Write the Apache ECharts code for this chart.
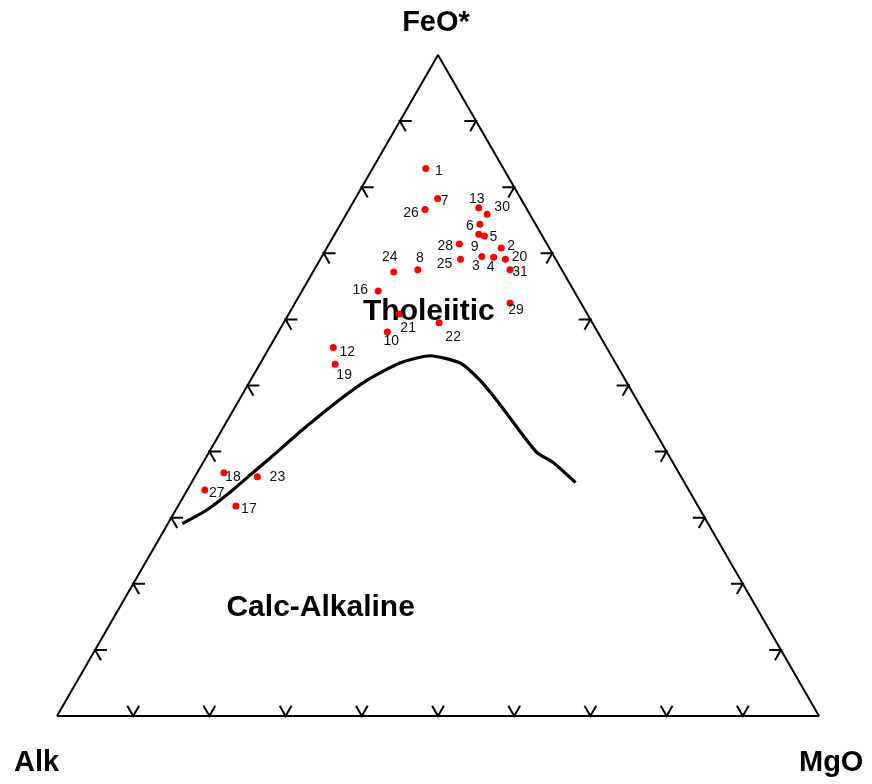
<!DOCTYPE html>
<html>
<head>
<meta charset="utf-8">
<script src="https://cdn.jsdelivr.net/npm/echarts@6/dist/echarts.min.js"></script>
<style>
html,body{margin:0;padding:0;background:#fff;}
#chart{width:872px;height:784px;}
</style>
</head>
<body>
<div id="chart"></div>
<script>
// ---- Data (ternary compositions, %) ----
const sampleIds = ['1','2','3','4','5','6','7','8','9','10','12','13','16','17','18','19','20','21','22','23','24','25','26','27','28','29','30','31'];
const feo = [82.9,70.8,69.5,69.4,72.6,74.4,78.3,67.5,72.9,58.1,55.8,76.9,64.3,31.8,36.8,53.2,69.1,60.8,59.5,36.2,67.1,69.1,76.7,34.2,71.4,62.4,75.9,67.5];
const alk = [10.2,6.3,9.5,8.0,7.6,7.3,10.9,18.9,8.2,27.6,35.9,6.2,25.7,60.7,59.7,36.9,6.6,24.7,20.1,55.6,22.2,12.5,13.4,63.5,11.5,9.3,5.6,6.8];
const mgo = [7.0,22.9,21.0,22.6,19.8,18.3,10.8,13.6,18.9,14.3,8.4,16.9,10.0,7.6,3.5,9.9,24.3,14.5,20.4,8.2,10.6,18.4,10.0,2.3,17.1,28.2,18.5,25.7];

// Tholeiitic / Calc-alkaline boundary
const boundaryFeO = [29.1,31.2,33.9,36.8,40.3,43.0,47.1,50.8,53.4,54.5,53.4,50.8,47.1,43.7,39.9,38.3,35.3];
const boundaryMgO = [1.9,4.1,5.8,7.3,9.1,10.4,12.7,15.3,18.3,21.7,26.2,30.1,34.6,38.5,43.0,46.0,50.4];

// Axis tick values (%)
const tickValues = [10,20,30,40,50,60,70,80,90];

// Vertex and field names
const vertexNames = ['FeO*','Alk','MgO'];
const fieldNames = ['Tholeiitic','Calc-Alkaline'];
const fieldFeO = [61.2,16.4];
const fieldAlk = [20.6,57.2];
const fieldMgO = [18.2,26.4];

// ---- Styling (label placement around each point, px) ----
const labelOffsets = {
  '1':[13,3],'2':[10,-2],'3':[-6,10],'4':[-3,10],'5':[9,1],'6':[-10,2],'7':[7,3],'8':[2,-12],
  '9':[-4,13],'10':[4,9],'12':[14,5],'13':[-2,-9],'16':[-18,-1],'17':[13,3],'18':[9,4],'19':[9,11],
  '20':[14,-2],'21':[9,14],'22':[14,14],'23':[20,0],'24':[-4,-15],'25':[-16,5],'26':[-14,4],'27':[12,3],
  '28':[-14,2],'29':[6,7],'30':[15,-7],'31':[10,2]
};

const S3 = Math.sqrt(3)/2;
function toXY(f, a, m){
  const s = f + a + m;
  const F = f/s, M = m/s;
  return [M + F/2, F*S3];
}

const pointData = sampleIds.map((id,i)=>({
  value: toXY(feo[i], alk[i], mgo[i]),
  name: id,
  label: {offset: labelOffsets[id] || [10,0]}
}));

const curveData = boundaryFeO.map((f,i)=>toXY(f, 100 - f - boundaryMgO[i], boundaryMgO[i]));

const frameData = [toXY(0,100,0), toXY(0,0,100), toXY(100,0,0), toXY(0,100,0)];

// ticks: vertex on the edge with two short arms along the grid directions
const d = 1.55; // arm length in %
const tickData = [];
tickValues.forEach(t=>{
  tickData.push([...toXY(d,100-t-d,t), ...toXY(0,100-t,t), ...toXY(d,100-t,t-d)]);
  tickData.push([...toXY(t,100-t-d,d), ...toXY(t,100-t,0), ...toXY(t-d,100-t,d)]);
  tickData.push([...toXY(t,d,100-t-d), ...toXY(t,0,100-t), ...toXY(t-d,d,100-t)]);
});

const fieldData = fieldNames.map((n,i)=>({name:n, value: toXY(fieldFeO[i], fieldAlk[i], fieldMgO[i])}));

const chart = echarts.init(document.getElementById('chart'), null, {renderer:'canvas'});
const FONT = '"Liberation Sans", Arial, sans-serif';
chart.setOption({
  animation: false,
  backgroundColor: '#ffffff',
  grid: {left:57, right:53, top:55, bottom:68},
  xAxis: {type:'value', min:0, max:1, show:false},
  yAxis: {type:'value', min:0, max:S3, show:false},
  graphic: [
    {type:'text', left:'center', top:8, style:{text:vertexNames[0], font:'bold 29px '+FONT, fill:'#000'}, z:10},
    {type:'text', left:14, top:748, style:{text:vertexNames[1], font:'bold 29px '+FONT, fill:'#000'}, z:10},
    {type:'text', left:799, top:748, style:{text:vertexNames[2], font:'bold 29px '+FONT, fill:'#000'}, z:10}
  ],
  series: [
    {
      type:'line', data: frameData, symbol:'none', z:2,
      lineStyle:{color:'#000', width:2}, silent:true
    },
    {
      type:'custom', z:2, silent:true,
      data: tickData,
      renderItem: function(params, api){
        const p1 = api.coord([api.value(0), api.value(1)]);
        const p0 = api.coord([api.value(2), api.value(3)]);
        const p2 = api.coord([api.value(4), api.value(5)]);
        return {type:'polyline', shape:{points:[p1,p0,p2]}, style:{stroke:'#000', lineWidth:2, fill:null}};
      }
    },
    {
      type:'line', data: curveData, symbol:'none', smooth:0.2, z:3,
      lineStyle:{color:'#000', width:3.2}, silent:true
    },
    {
      type:'scatter', data: fieldData, symbolSize:0, z:1, silent:true,
      itemStyle:{opacity:1},
      label:{show:true, position:'inside', formatter:'{b}', color:'#000', fontSize:30, fontWeight:'bold', fontFamily:FONT}
    },
    {
      type:'scatter', data: pointData, symbol:'circle', symbolSize:7, z:5,
      itemStyle:{color:'#ff0000', opacity:1},
      label:{show:true, position:'inside', formatter:'{b}', color:'#111', fontSize:14, fontFamily:FONT, align:'center', verticalAlign:'middle'}
    }
  ]
});
</script>
</body>
</html>
